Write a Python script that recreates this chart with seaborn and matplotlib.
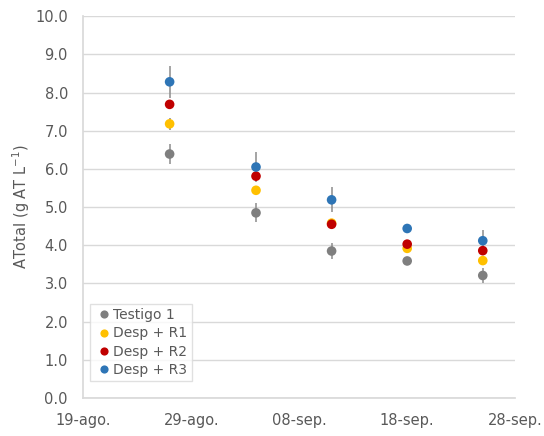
import numpy as np
import pandas as pd
import seaborn as sns
import matplotlib.pyplot as plt

# sampling dates
fechas = ['2023-08-27', '2023-09-04', '2023-09-11', '2023-09-18', '2023-09-25']

series = ['Testigo 1', 'Desp + R1', 'Desp + R2', 'Desp + R3']
colores = ['#7F7F7F', '#FFC000', '#C00000', '#2E75B6']

testigo = [6.39, 4.85, 3.85, 3.59, 3.21]
desp_r1 = [7.18, 5.44, 4.58, 3.92, 3.60]
desp_r2 = [7.69, 5.81, 4.55, 4.03, 3.86]
desp_r3 = [8.28, 6.05, 5.19, 4.44, 4.12]

err_testigo = [0.25, 0.25, 0.20, 0.10, 0.20]
err_r1 = [0.16, 0.12, 0.05, 0.05, 0.05]
err_r2 = [0.12, 0.10, 0.05, 0.05, 0.05]
err_r3 = [0.42, 0.40, 0.33, 0.05, 0.28]

xticks = ['2023-08-19', '2023-08-29', '2023-09-08', '2023-09-18', '2023-09-28']
xtick_labels = ['19-ago.', '29-ago.', '08-sep.', '18-sep.', '28-sep.']

valores = [testigo, desp_r1, desp_r2, desp_r3]
errores = [err_testigo, err_r1, err_r2, err_r3]

df = pd.DataFrame({
    'fecha': pd.to_datetime(fechas * 4),
    'serie': np.repeat(series, len(fechas)),
    'valor': sum(valores, []),
    'err': sum(errores, []),
})

sns.set_theme(style='white')
plt.rcParams['font.family'] = ['DejaVu Sans']

fig = plt.figure(figsize=(5.44, 4.36), dpi=100)
ax = fig.add_axes([0.153, 0.087, 0.794, 0.876])

# error bars first (grey, behind markers)
for s in series:
    d = df[df['serie'] == s]
    ax.errorbar(d['fecha'], d['valor'], yerr=d['err'], fmt='none',
                ecolor='#8C8C8C', elinewidth=1.1, capsize=0, zorder=1)

sns.scatterplot(data=df, x='fecha', y='valor', hue='serie', hue_order=series,
                palette=colores, s=48, edgecolor='none', zorder=3, ax=ax)

ax.set_ylim(0, 10)
ax.set_yticks(np.arange(0, 10.1, 1))
ax.set_yticklabels([f'{v:.1f}' for v in np.arange(0, 10.1, 1)])
ax.set_xlim(pd.Timestamp(xticks[0]), pd.Timestamp(xticks[-1]))
ax.set_xticks(pd.to_datetime(xticks))
ax.set_xticklabels(xtick_labels)

ax.grid(axis='y', color='#D9D9D9', linewidth=1)
ax.set_axisbelow(True)
for side in ['top', 'right']:
    ax.spines[side].set_visible(False)
for side in ['left', 'bottom']:
    ax.spines[side].set_color('#D9D9D9')
ax.tick_params(axis='both', length=0, labelsize=10.5, colors='#595959')
ax.tick_params(axis='y', pad=11)
ax.tick_params(axis='x', pad=11)

ax.set_xlabel('')
ax.set_ylabel('ATotal (g AT L$^{-1}$)', fontsize=10.5, color='#595959', labelpad=2)

leg = ax.legend(loc='lower left', bbox_to_anchor=(0.015, 0.045), fontsize=10,
                frameon=True, fancybox=False, edgecolor='#D9D9D9',
                handletextpad=0.0, handlelength=1.4, borderpad=0.3,
                labelspacing=0.3, markerscale=0.85, borderaxespad=0)
for t in leg.get_texts():
    t.set_color('#595959')
leg.get_frame().set_linewidth(1)

plt.savefig('out.png', dpi=100)
